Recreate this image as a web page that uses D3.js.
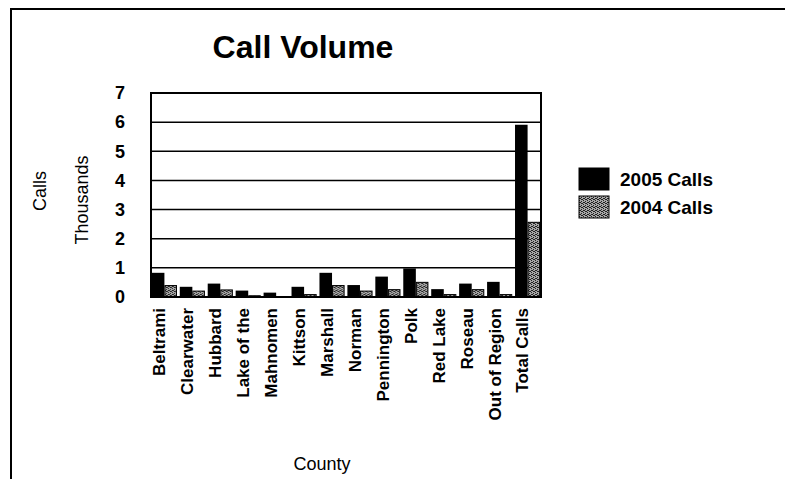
<!DOCTYPE html>
<html>
<head>
<meta charset="utf-8">
<script src="https://cdn.jsdelivr.net/npm/d3@7"></script>
<style>
  body { margin: 0; background: #fff; }
  svg { display: block; font-family: "Liberation Sans", Arial, sans-serif; }
</style>
</head>
<body>
<div id="chart"></div>
<script>
// Chart data
var counties = ['Beltrami', 'Clearwater', 'Hubbard', 'Lake of the', 'Mahnomen', 'Kittson',
    'Marshall', 'Norman', 'Pennington', 'Polk', 'Red Lake', 'Roseau', 'Out of Region', 'Total Calls'];
var calls2005 = [0.83, 0.35, 0.46, 0.22, 0.15, 0.35, 0.83, 0.41, 0.70, 0.98, 0.27, 0.46, 0.52, 5.91];
var calls2004 = [0.41, 0.22, 0.26, 0.06, 0.03, 0.10, 0.41, 0.22, 0.27, 0.52, 0.10, 0.27, 0.10, 2.58];
var seriesNames = ['2005 Calls', '2004 Calls'];
var yTicks = [0, 1, 2, 3, 4, 5, 6, 7];

var width = 785, height = 479;
var plot = { left: 151, right: 541, top: 93, bottom: 297 };

var svg = d3.select('#chart').append('svg')
    .attr('width', width)
    .attr('height', height);

// stipple pattern for the 2004 series
var defs = svg.append('defs');
var pat = defs.append('pattern')
    .attr('id', 'stipple')
    .attr('width', 4).attr('height', 4)
    .attr('patternUnits', 'userSpaceOnUse');
pat.append('rect').attr('width', 4).attr('height', 4).attr('fill', '#a8a8a8');
[[0, 0], [2, 1], [1, 2], [3, 3], [2, 3], [0, 2]].forEach(function(p) {
    pat.append('rect').attr('x', p[0]).attr('y', p[1]).attr('width', 1).attr('height', 1).attr('fill', '#222');
});

// outer frame (top and left edges only)
svg.append('line').attr('x1', 10).attr('x2', width).attr('y1', 9).attr('y2', 9)
    .attr('stroke', '#000').attr('stroke-width', 2);
svg.append('line').attr('x1', 11).attr('x2', 11).attr('y1', 9).attr('y2', height)
    .attr('stroke', '#000').attr('stroke-width', 2);

var x = d3.scaleBand()
    .domain(counties)
    .range([plot.left, plot.right])
    .paddingInner(0.1)
    .paddingOuter(0.03);

var x1 = d3.scaleBand()
    .domain(seriesNames)
    .range([0, x.bandwidth()])
    .padding(0);

var y = d3.scaleLinear()
    .domain([0, 7])
    .range([plot.bottom, plot.top]);

// gridlines
svg.append('g')
    .selectAll('line')
    .data(yTicks.slice(1, -1))
    .join('line')
    .attr('x1', plot.left).attr('x2', plot.right)
    .attr('y1', d => y(d)).attr('y2', d => y(d))
    .attr('stroke', '#000').attr('stroke-width', 1.5);

// bars
var groups = svg.append('g')
    .selectAll('g')
    .data(counties)
    .join('g')
    .attr('transform', d => `translate(${x(d)},0)`);

groups.append('rect')
    .attr('x', x1('2005 Calls'))
    .attr('y', (d, i) => y(calls2005[i]))
    .attr('width', x1.bandwidth())
    .attr('height', (d, i) => y(0) - y(calls2005[i]))
    .attr('fill', '#000');

groups.append('rect')
    .attr('x', x1('2004 Calls') + 0.5)
    .attr('y', (d, i) => y(calls2004[i]) + 0.5)
    .attr('width', x1.bandwidth() - 1)
    .attr('height', (d, i) => Math.max(0, y(0) - y(calls2004[i]) - 0.5))
    .attr('fill', 'url(#stipple)')
    .attr('stroke', '#000')
    .attr('stroke-width', 1);

// plot border
svg.append('rect')
    .attr('x', plot.left).attr('y', plot.top)
    .attr('width', plot.right - plot.left)
    .attr('height', plot.bottom - plot.top)
    .attr('fill', 'none')
    .attr('stroke', '#000')
    .attr('stroke-width', 2);

// y axis labels
var yAxis = g => g
    .attr('transform', `translate(${plot.left - 26}, 0)`)
    .call(d3.axisLeft(y).tickValues(yTicks).tickFormat(d3.format('d')).tickSize(0).tickPadding(0))
    .call(g => g.select('.domain').remove())
    .call(g => g.selectAll('text')
        .attr('font-size', '18px')
        .attr('font-weight', 'bold')
        .attr('font-family', '"Liberation Sans", Arial, sans-serif')
        .attr('fill', '#000'));
svg.append('g').call(yAxis);

// x axis labels (rotated)
var xAxis = g => g
    .attr('transform', `translate(0, ${plot.bottom + 11})`)
    .call(d3.axisBottom(x).tickSize(0).tickPadding(0))
    .call(g => g.select('.domain').remove())
    .call(g => g.selectAll('text')
        .attr('transform', 'rotate(-90)')
        .attr('text-anchor', 'end')
        .attr('x', 0)
        .attr('y', 0)
        .attr('dx', 0)
        .attr('dy', '0.05em')
        .attr('font-size', '17px')
        .attr('font-weight', 'bold')
        .attr('font-family', '"Liberation Sans", Arial, sans-serif')
        .attr('fill', '#000'));
svg.append('g').call(xAxis);

// title
svg.append('text')
    .attr('x', 303)
    .attr('y', 58)
    .attr('text-anchor', 'middle')
    .attr('font-size', '32px')
    .attr('font-weight', 'bold')
    .text('Call Volume');

// axis titles
svg.append('text')
    .attr('transform', 'translate(46, 191) rotate(-90)')
    .attr('text-anchor', 'middle')
    .attr('font-size', '18px')
    .text('Calls');

svg.append('text')
    .attr('transform', 'translate(88, 200) rotate(-90)')
    .attr('text-anchor', 'middle')
    .attr('font-size', '18px')
    .text('Thousands');

svg.append('text')
    .attr('x', 322)
    .attr('y', 470)
    .attr('text-anchor', 'middle')
    .attr('font-size', '18px')
    .text('County');

// legend
var legend = svg.append('g')
    .selectAll('g')
    .data(seriesNames)
    .join('g')
    .attr('transform', (d, i) => `translate(579, ${168 + i * 28})`);

legend.append('rect')
    .attr('width', 30)
    .attr('height', 22)
    .attr('fill', (d, i) => i === 0 ? '#000' : 'url(#stipple)')
    .attr('stroke', '#000')
    .attr('stroke-width', 1);

legend.append('text')
    .attr('x', 41)
    .attr('y', 18)
    .attr('font-size', '19px')
    .attr('font-weight', 'bold')
    .text(d => d);
</script>
</body>
</html>
